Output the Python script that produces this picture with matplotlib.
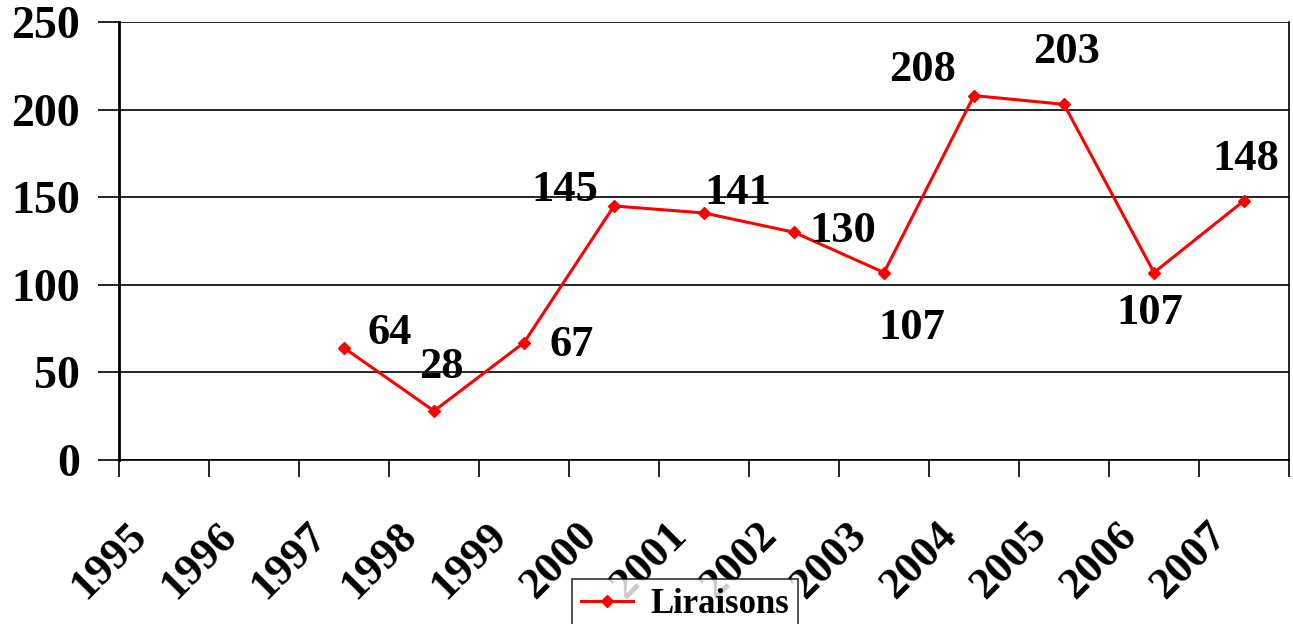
import matplotlib
matplotlib.use("Agg")
import matplotlib.pyplot as plt
from matplotlib.lines import Line2D
import numpy as np

# data
years = ['1995', '1996', '1997', '1998', '1999', '2000', '2001',
         '2002', '2003', '2004', '2005', '2006', '2007']
point_years = ['1997', '1998', '1999', '2000', '2001', '2002',
               '2003', '2004', '2005', '2006', '2007']
liraisons = [64, 28, 67, 145, 141, 130, 107, 208, 203, 107, 148]
y_ticks = [0, 50, 100, 150, 200, 250]

# label offsets in pixels (dx, dy up) relative to each point
label_offsets = [(46, 15), (7, 44), (48, -2), (-49, 16), (34, 20), (49, 1),
                 (28, -55), (-51, 26), (3, 52), (-4, -40), (2, 42)]

plt.rcParams['font.family'] = ['Liberation Serif', 'DejaVu Serif']
plt.rcParams['font.weight'] = 'bold'

fig = plt.figure(figsize=(12.93, 6.24), dpi=100)
ax = fig.add_axes([119 / 1293, 164 / 624, 1170 / 1293, 438 / 624])

xpos = [years.index(y) + 0.5 for y in point_years]
ax.plot(xpos, liraisons, color='red', lw=2.2, marker='D', ms=6.5,
        label='Liraisons', zorder=3)

for x, v, (dx, dy) in zip(xpos, liraisons, label_offsets):
    ax.annotate(str(v), (x, v), xytext=(dx, dy), textcoords='offset pixels',
                ha='center', va='center', fontsize=32, fontweight='bold')

ax.set_xlim(0, len(years))
ax.set_ylim(0, 250)
ax.set_yticks(y_ticks)
ax.set_yticklabels([str(t) for t in y_ticks], fontsize=33, fontweight='bold')
ax.tick_params(axis='y', length=15, width=1.2, pad=13)
ax.set_xticks(np.arange(len(years) + 1))
ax.set_xticklabels([])
ax.tick_params(axis='x', length=12, width=1.2, direction='out')
ax.yaxis.grid(True, color='black', lw=1.2)
ax.set_axisbelow(True)

# rotated year labels, shifted down-left like the original
for i, yr in enumerate(years):
    ax.annotate(yr, (i + 0.5, 0), xycoords=('data', 'axes fraction'),
                xytext=(-38, -55), textcoords='offset pixels',
                rotation=45, rotation_mode='anchor', ha='right', va='top',
                fontsize=32, fontweight='bold')

for s in ['left', 'right', 'bottom']:
    ax.spines[s].set_color('black')
ax.spines['left'].set_linewidth(2)
ax.spines['right'].set_linewidth(1.2)
ax.spines['bottom'].set_linewidth(1.2)
ax.spines['top'].set_visible(False)

handle = Line2D([], [], color='red', lw=2.2, marker='D', ms=6.5)
leg = fig.legend([handle], ['Liraisons'], loc='upper left',
                 bbox_to_anchor=(572 / 1293, 1 - 579 / 624),
                 prop={'size': 25, 'weight': 'bold'}, frameon=True,
                 fancybox=False, borderpad=0.25, handlelength=1.5,
                 handletextpad=0.5, borderaxespad=0)
leg.get_frame().set_edgecolor('black')
leg.get_frame().set_linewidth(1.2)

fig.savefig('out.png', dpi=100)
